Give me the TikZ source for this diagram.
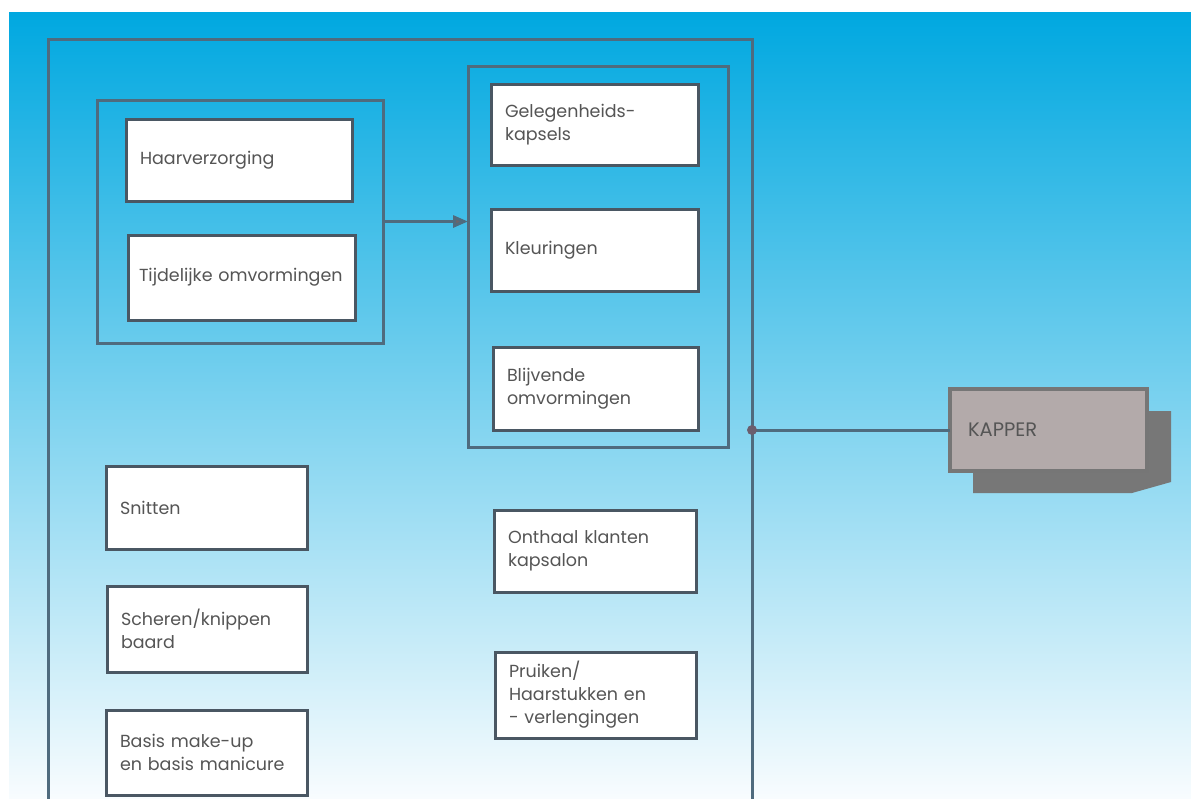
\documentclass[tikz,border=0pt]{standalone}
\usepackage{fontspec}
\setmainfont{Poppins}
\usetikzlibrary{arrows.meta}
\definecolor{bgtop}{HTML}{00A8E0}
\definecolor{bgmid}{HTML}{5AC5EA}
\definecolor{bgbot}{HTML}{F8FCFE}
\definecolor{grpline}{HTML}{4F6B7E}
\definecolor{boxline}{HTML}{4A5763}
\definecolor{txt}{HTML}{555555}
\definecolor{kfill}{HTML}{B3AAAA}
\definecolor{kshadow}{HTML}{777777}
\definecolor{kline}{HTML}{767676}
\definecolor{dotc}{HTML}{6B5E6E}
\definecolor{tipc}{HTML}{6E6468}
\begin{document}
\begin{tikzpicture}[x=1pt,y=-1pt,
  wbox/.style={draw=boxline, line width=3pt, fill=white, anchor=north west, outer sep=0pt,
    inner xsep=14pt, inner ysep=0pt, align=left, text=txt, font=\fontsize{17.5}{23}\selectfont},
  grp/.style={draw=grpline, line width=3pt, anchor=north west, inner sep=0pt, outer sep=0pt},
  conn/.style={draw=grpline, line width=3pt},
]
\useasboundingbox (0,0) rectangle (1191,798);
\fill[white] (0,0) rectangle (1191,798);
\shade[top color=bgtop, middle color=bgmid, bottom color=bgbot] (9,12) rectangle (1191,798);

% containers
\node[grp, minimum width=704pt, minimum height=800pt] (outer) at (48,39) {};
\node[grp, minimum width=286pt, minimum height=243pt] (g1) at (97,100) {};
\node[grp, minimum width=260pt, minimum height=381pt] (g2) at (468,66) {};

% boxes
\node[wbox, text width=198pt, minimum height=82pt] (hv) at (126,119) {Haarverzorging};
\node[wbox, inner xsep=11pt, text width=205pt, minimum height=85pt] (tij) at (128,235) {\mbox{Tijdelijke omvormingen}};
\node[wbox, text width=179pt, minimum height=81pt] (gel) at (491,84) {Gelegenheids-\\kapsels};
\node[wbox, text width=179pt, minimum height=82pt] (kle) at (491,209) {Kleuringen};
\node[wbox, text width=177pt, minimum height=83pt] (bli) at (493,347) {Blijvende\\omvormingen};
\node[wbox, text width=173pt, minimum height=83pt] (sni) at (106,466) {Snitten};
\node[wbox, text width=172pt, minimum height=86pt] (sch) at (107,586) {Scheren/knippen\\baard};
\node[wbox, text width=173pt, minimum height=85pt] (bas) at (106,710) {Basis make-up\\en basis manicure};
\node[wbox, text width=174pt, minimum height=82pt] (ont) at (494,510) {Onthaal klanten\\kapsalon};
\node[wbox, text width=173pt, minimum height=86pt] (pru) at (495,652) {Pruiken/\\Haarstukken en\\- verlengingen};

% KAPPER
\fill[kshadow] (973,411) -- (1171,411) -- (1171,482) -- (1132,493) -- (973,493) -- cycle;
\node[draw=kline, line width=3.5pt, fill=kfill, anchor=north west, outer sep=0pt,
  minimum width=197pt, minimum height=82pt, inner xsep=18pt, text width=161pt,
  align=left, text=txt, font=\fontsize{19.5}{23}\selectfont] (kap) at (950,389) {KAPPER};

% connectors
\draw[conn, -{Triangle[length=15pt,width=12pt,fill=tipc]}] (g1.east) -- (g1.east -| g2.west);
\draw[conn] (kap.west) -- (kap.west -| outer.east) coordinate (j);
\fill[dotc] (j) circle (5pt);
\end{tikzpicture}
\end{document}
